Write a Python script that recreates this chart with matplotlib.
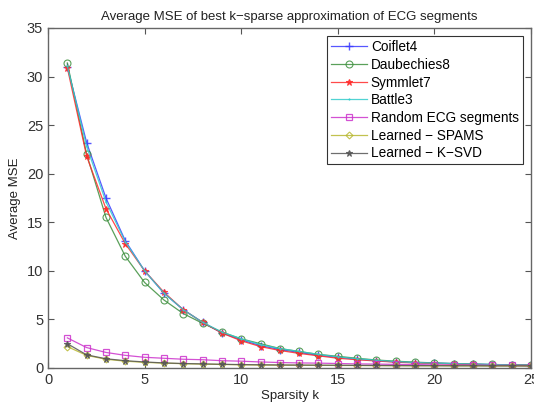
import matplotlib
matplotlib.use("Agg")
import matplotlib.pyplot as plt
import numpy as np

plt.rcParams['font.family'] = ['Liberation Sans', 'DejaVu Sans']

k = list(range(1, 26))
coiflet4 = [31.0, 23.2, 17.5, 13.1, 10.0, 7.7, 6.0, 4.7, 3.6, 2.9, 2.3, 1.9, 1.6, 1.3, 1.1,
            0.9, 0.75, 0.62, 0.55, 0.5, 0.45, 0.4, 0.35, 0.32, 0.3]
daubechies8 = [31.4, 22.0, 15.5, 11.5, 8.8, 7.0, 5.6, 4.6, 3.7, 3.0, 2.5, 2.0, 1.7, 1.4, 1.2,
               1.0, 0.82, 0.7, 0.6, 0.52, 0.46, 0.4, 0.36, 0.32, 0.3]
symmlet7 = [30.9, 21.8, 16.4, 12.8, 10.0, 7.8, 6.0, 4.7, 3.6, 2.8, 2.2, 1.8, 1.5, 1.25, 1.0,
            0.85, 0.72, 0.6, 0.52, 0.46, 0.4, 0.36, 0.33, 0.3, 0.28]
battle3 = [31.1, 22.8, 17.1, 13.0, 10.0, 7.7, 6.0, 4.7, 3.7, 3.0, 2.4, 2.0, 1.7, 1.4, 1.15,
           0.95, 0.8, 0.66, 0.56, 0.5, 0.45, 0.4, 0.36, 0.32, 0.3]
random_ecg = [3.1, 2.1, 1.6, 1.3, 1.1, 1.0, 0.9, 0.85, 0.75, 0.7, 0.62, 0.56, 0.52, 0.5, 0.46,
              0.42, 0.4, 0.37, 0.35, 0.32, 0.3, 0.3, 0.28, 0.26, 0.25]
spams = [2.2, 1.3, 0.9, 0.7, 0.58, 0.5, 0.44, 0.4, 0.36, 0.33, 0.3, 0.29, 0.28, 0.27, 0.26,
         0.25, 0.24, 0.23, 0.22, 0.22, 0.21, 0.21, 0.2, 0.2, 0.2]
ksvd = [2.5, 1.35, 0.95, 0.75, 0.62, 0.52, 0.46, 0.42, 0.38, 0.35, 0.33, 0.31, 0.3, 0.29, 0.28,
        0.27, 0.26, 0.25, 0.24, 0.24, 0.23, 0.23, 0.22, 0.22, 0.21]

series = [
    ("Coiflet4", coiflet4, "#3a3aff", "+", dict(markersize=6, mew=1.0)),
    ("Daubechies8", daubechies8, "#3d8f3d", "o", dict(markersize=5, mfc="none", mew=0.8)),
    ("Symmlet7", symmlet7, "#ff2a2a", "*", dict(markersize=5, mew=0.8)),
    ("Battle3", battle3, "#33cccc", ".", dict(markersize=2, mew=0.5)),
    ("Random ECG segments", random_ecg, "#cc33cc", "s", dict(markersize=4.5, mfc="none", mew=0.9)),
    ("Learned \u2212 SPAMS", spams, "#b8b830", "D", dict(markersize=3.5, mfc="none", mew=0.8)),
    ("Learned \u2212 K\u2212SVD", ksvd, "#555555", "*", dict(markersize=5, mew=0.8)),
]

fig = plt.figure(figsize=(5.34, 4.05), dpi=100)
ax = fig.add_axes([0.0899, 0.0914, 0.9045, 0.8395])

for name, vals, col, mk, kw in series:
    ax.plot(k, vals, color=col, marker=mk, linewidth=0.9, alpha=0.85, label=name, **kw)

ax.set_xlim(0, 25)
ax.set_ylim(0, 35)
ax.set_xticks([0, 5, 10, 15, 20, 25])
ax.set_yticks([0, 5, 10, 15, 20, 25, 30, 35])
ax.tick_params(direction="in", top=True, right=True, labelsize=10.5, length=4, width=0.8,
               color="#555555", labelcolor="#333333")
for s in ax.spines.values():
    s.set_color("#666666")
    s.set_linewidth(1.0)

ax.set_title("Average MSE of best k\u2212sparse approximation of ECG segments", fontsize=9.5,
             color="#222222", pad=6)
ax.set_xlabel("Sparsity k", fontsize=9.5, labelpad=2, color="#222222")
ax.set_ylabel("Average MSE", fontsize=9.5, labelpad=4, color="#222222")

leg = ax.legend(loc="upper right", fontsize=9.8, frameon=True, fancybox=False,
                edgecolor="black", borderpad=0.3, labelspacing=0.27, handlelength=2.7,
                handletextpad=0.25, borderaxespad=0.6)
leg.get_frame().set_linewidth(0.8)

fig.savefig("out.png", dpi=100)
